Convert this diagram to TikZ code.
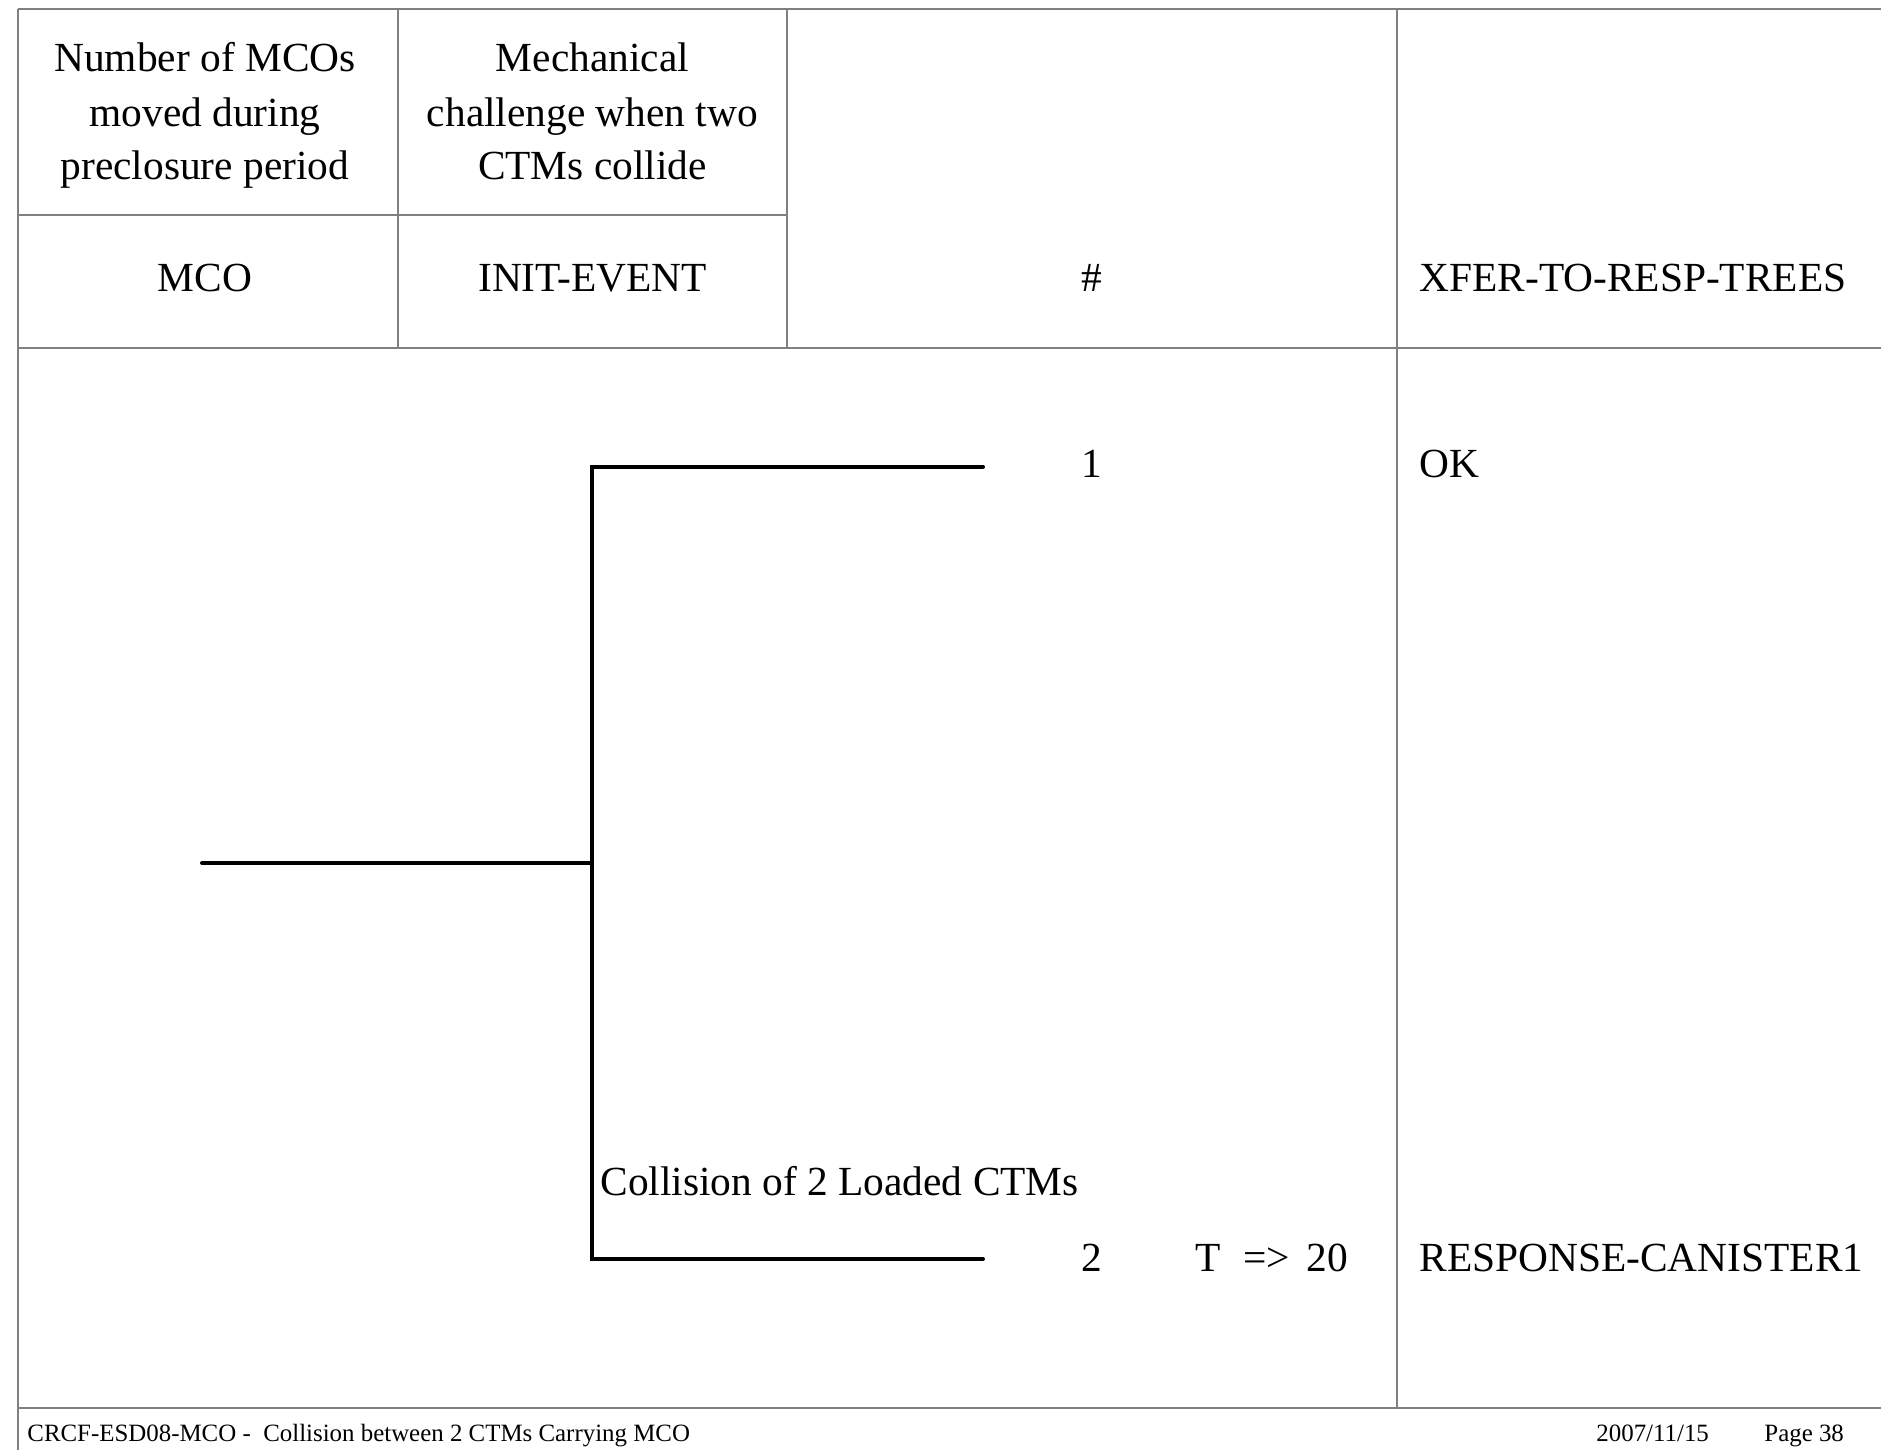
\documentclass[tikz,border=0pt]{standalone}
\usepackage{fontspec}
\setmainfont{Liberation Serif}
\definecolor{gridgray}{RGB}{128,128,128}
\begin{document}
\begin{tikzpicture}[x=0.5pt,y=-0.5pt,
  gridline/.style={draw=gridgray, line width=1pt},
  branch/.style={draw=black, line width=2pt, line cap=round, line join=miter},
  big/.style={font=\fontsize{20.7}{24}\selectfont, inner sep=0pt, text=black},
  small/.style={font=\fontsize{12.45}{15}\selectfont, inner sep=0pt, text=black}]
\useasboundingbox (0,0) rectangle (1881,1450);
\fill[white] (0,0) rectangle (1881,1450);
% grid
\coordinate (tl) at (18,9.5);
\coordinate (tr) at (1881,9.5);
\coordinate (bl) at (18,1450);
\draw[gridline] (tl) -- (tr);
\draw[gridline] (tl) -- (bl);
\draw[gridline] (398,9.5) -- (398,348);
\draw[gridline] (787,9.5) -- (787,348);
\draw[gridline] (18,215) -- (787,215);
\draw[gridline] (18,348) -- (1881,348);
\draw[gridline] (1397,9.5) -- (1397,1408);
\draw[gridline] (18,1408) -- (1881,1408);
% header
\node[big, anchor=base] (h1a) at (205,71.5) {Number of MCOs};
\node[big, anchor=base] (h1b) at (205,126.5) {moved during};
\node[big, anchor=base] (h1c) at (205,180) {preclosure period};
\node[big, anchor=base] (h2a) at (592.5,71.5) {Mechanical};
\node[big, anchor=base] (h2b) at (592.5,126.5) {challenge when two};
\node[big, anchor=base] (h2c) at (592.5,180) {CTMs collide};
\node[big, anchor=base] (c1) at (205,291.7) {MCO};
\node[big, anchor=base] (c2) at (592.5,291.7) {INIT-EVENT};
\node[big, anchor=base] (c3) at (1092,291.7) {\#};
\node[big, anchor=base west] (c4) at (1419,291.7) {XFER-TO-RESP-TREES};
% tree
\coordinate (root) at (202,863);
\coordinate (fork) at (592,863);
\coordinate (top) at (592,466.5);
\coordinate (bot) at (592,1259);
\coordinate (end1) at (983,466.5);
\coordinate (end2) at (983,1259);
\draw[branch] (root) -- (fork);
\draw[branch] (end1) -- (top) -- (bot) -- (end2);
% labels
\node[big, anchor=base] (n1) at (1092,477.7) {1};
\node[big, anchor=base west] (ok) at (1419,477.7) {OK};
\node[big, anchor=base west] (col) at (600,1195.5) {Collision of 2 Loaded CTMs};
\node[big, anchor=base] (n2) at (1092,1271.7) {2};
\node[big, anchor=base west] (t20) at (1195,1271.7) {T\hspace{0.55em}=>\hspace{0.4em}20};
\node[big, anchor=base west] (resp) at (1419,1271.7) {RESPONSE-CANISTER1};
% footer
\node[small, anchor=base west] (foot) at (27,1441) {CRCF-ESD08-MCO -\ \ Collision between 2 CTMs Carrying MCO};
\node[small, anchor=base west] (date) at (1596,1441) {2007/11/15};
\node[small, anchor=base west] (page) at (1764,1441) {Page 38};
\end{tikzpicture}
\end{document}
